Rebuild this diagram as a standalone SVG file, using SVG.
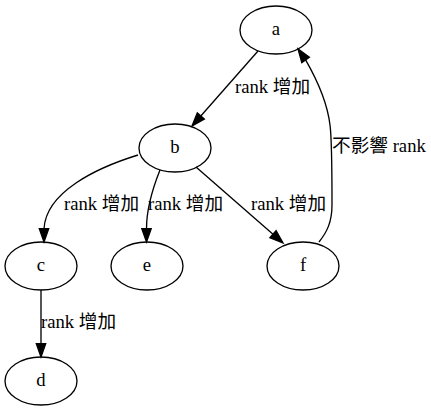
<svg xmlns="http://www.w3.org/2000/svg" width="431" height="411" viewBox="0 0 431 411">
<style>
text{font-family:"Liberation Serif","Noto Sans CJK TC","Noto Sans CJK SC",serif;font-size:18.67px;fill:#000}
.n text{text-anchor:middle}
ellipse{fill:none;stroke:#000;stroke-width:1.33}
.e path{fill:none;stroke:#000;stroke-width:1.33}
.e polygon{fill:#000;stroke:#000;stroke-width:1.33}
</style>
<rect width="431" height="411" fill="#fff"/>
<g id="a" class="n"><ellipse cx="276" cy="30" rx="36" ry="24"/><text x="276" y="35">a</text></g>
<g id="b" class="n"><ellipse cx="175" cy="148" rx="36" ry="24"/><text x="175" y="153">b</text></g>
<g id="c" class="n"><ellipse cx="41" cy="266" rx="36" ry="24"/><text x="41" y="271">c</text></g>
<g id="e" class="n"><ellipse cx="147" cy="266" rx="36" ry="24"/><text x="147" y="271">e</text></g>
<g id="f" class="n"><ellipse cx="303" cy="266" rx="36" ry="24"/><text x="303" y="271">f</text></g>
<g id="d" class="n"><ellipse cx="41" cy="381" rx="36" ry="24"/><text x="41" y="386">d</text></g>
<g id="edges" class="e">
<path d="M258,51 L200.8,116"/><polygon points="204.3,119.1 197.3,112.9 192,126"/>
<text x="235" y="93">rank 增加</text>
<path d="M138,155 C96,168 46,192 44,228.7"/><polygon points="39.3,228.7 48.7,228.7 44,242"/>
<text x="64" y="210">rank 增加</text>
<path d="M160,170 C152,190 146.5,208 146.5,228.7"/><polygon points="141.8,228.7 151.2,228.7 146.5,242"/>
<text x="148" y="210">rank 增加</text>
<path d="M196,167 L273,234.3"/><polygon points="269.9,237.8 276.1,230.7 283,243"/>
<text x="251" y="210">rank 增加</text>
<path d="M319,242 C327,232 332,222 332,205 C332,175 332,140 330,125 C327,100 316,78 305.6,59.9"/><polygon points="309.4,57.2 301.8,62.6 298,49"/>
<text x="332" y="152">不影響 rank</text>
<path d="M41,290 L41,343.7"/><polygon points="36.3,343.7 45.7,343.7 41,357"/>
<text x="41" y="328">rank 增加</text>
</g>
</svg>
